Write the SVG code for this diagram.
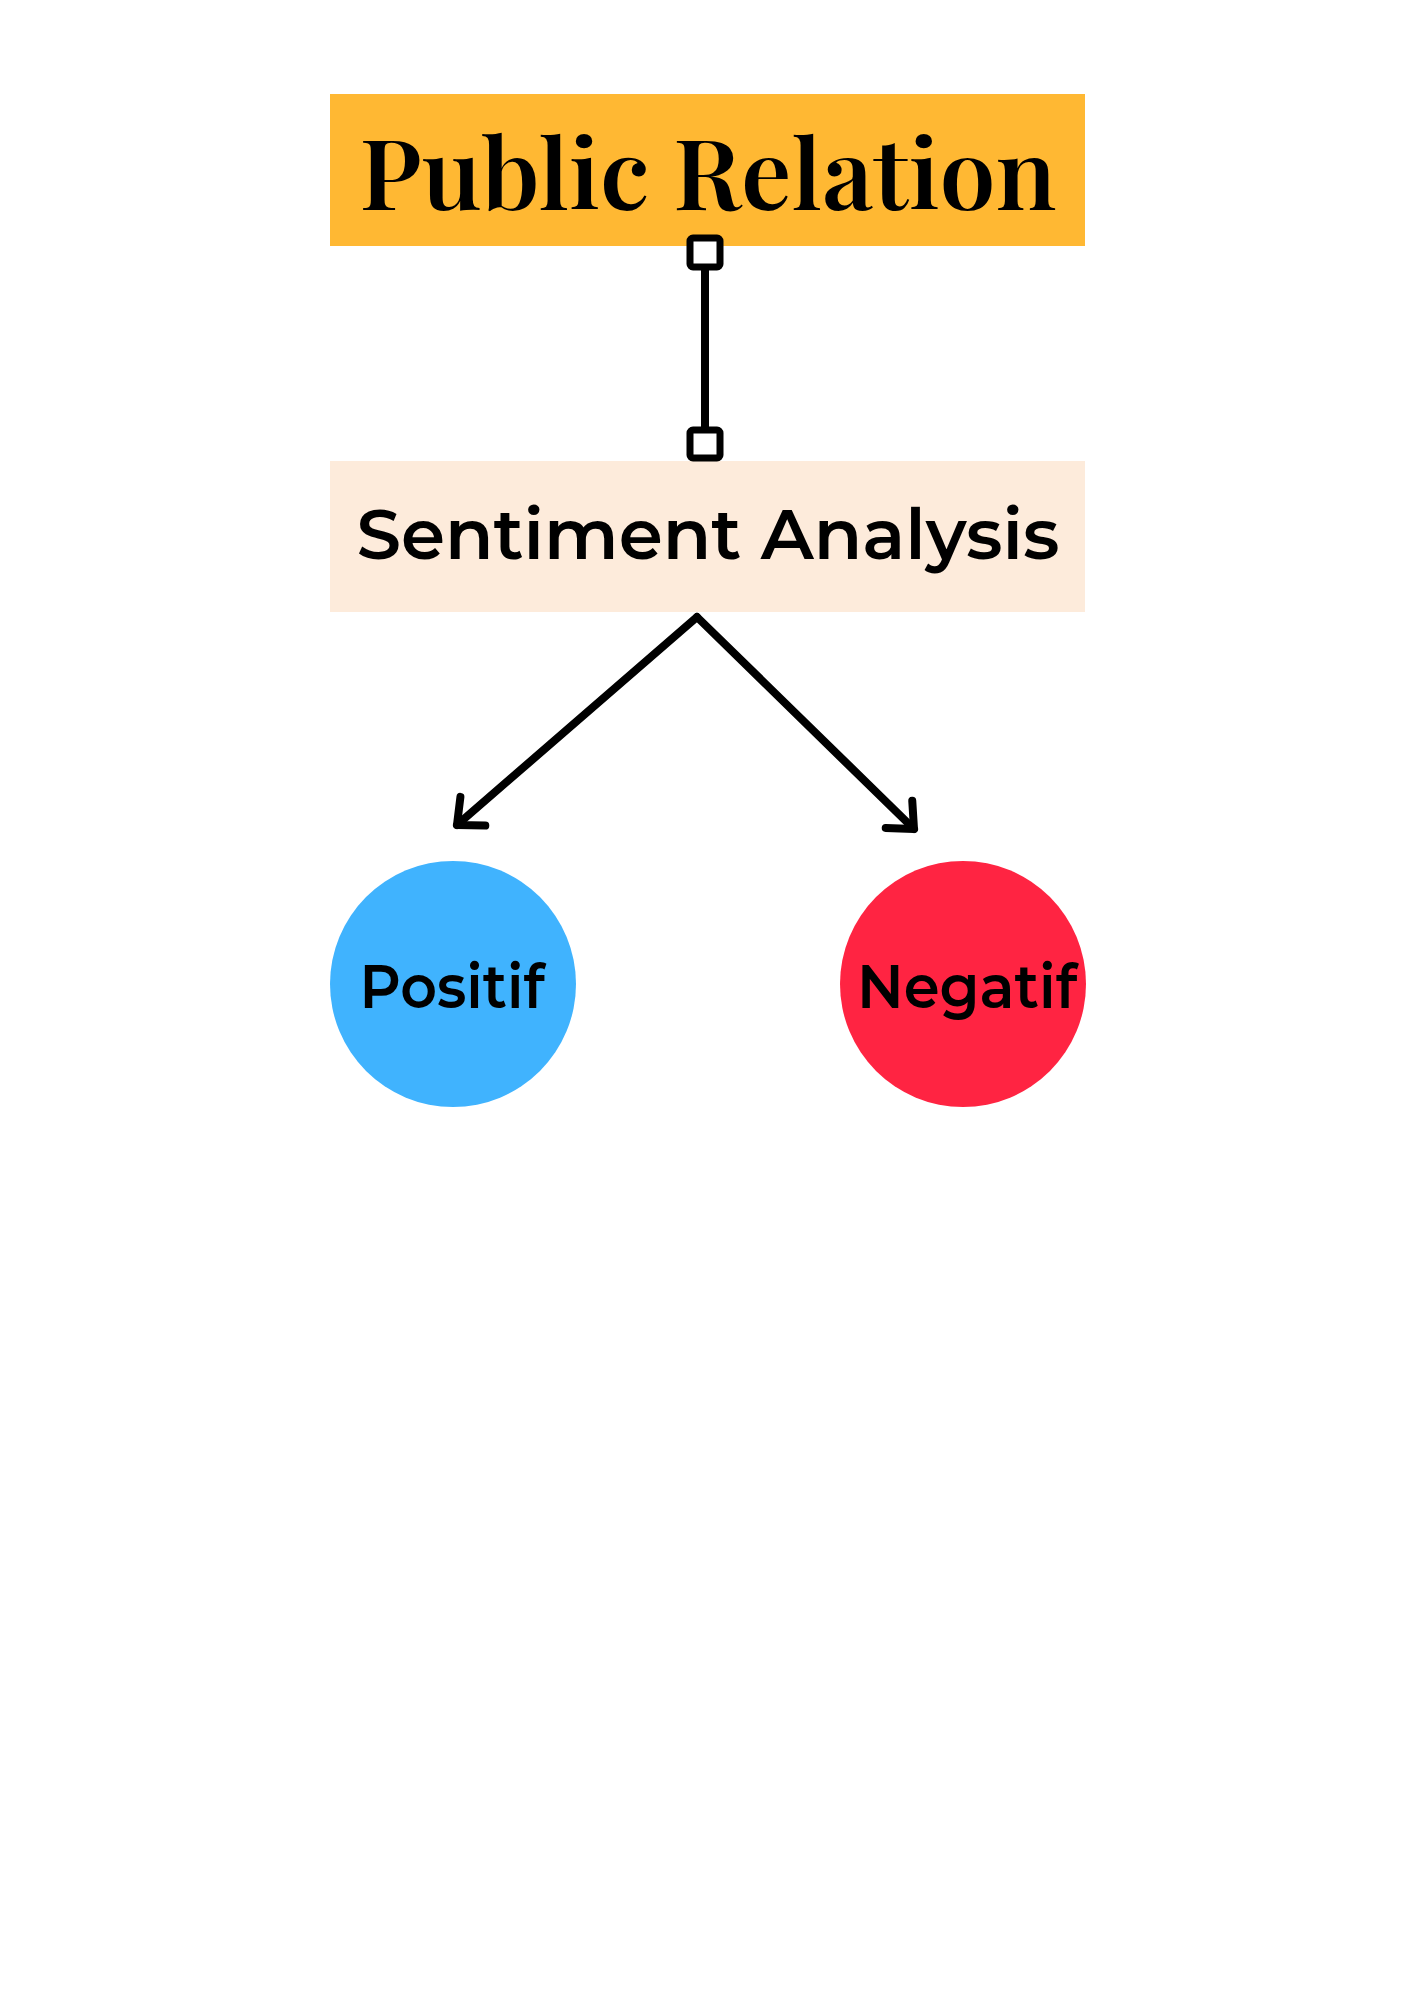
<svg xmlns="http://www.w3.org/2000/svg" width="1414" height="2000" viewBox="0 0 1414 2000">
  <style>
    .conn { fill: none; stroke: #000; stroke-width: 8; stroke-linecap: round; stroke-linejoin: round; }
    .sq { fill: #fff; stroke: #000; stroke-width: 7; }
    .lbl-sans { font-family: "Montserrat", "Inter", "Open Sans", "Liberation Sans", sans-serif; font-weight: 600; fill: #000; text-anchor: middle; }
    .lbl-serif { font-family: "Playfair Display", "Liberation Serif", "DejaVu Serif", serif; font-weight: 600; fill: #000; text-anchor: middle; }
  </style>
  <defs>
    <marker id="chev" viewBox="-30 -24 36 48" refX="0" refY="0" markerWidth="36" markerHeight="48" markerUnits="userSpaceOnUse" orient="auto">
      <path d="M -21 -19 L 0 0 L -21 19" fill="none" stroke="#000" stroke-width="8" stroke-linecap="round" stroke-linejoin="round"/>
    </marker>
  </defs>
  <rect width="1414" height="2000" fill="#fff"/>

  <g id="node-public-relation">
    <rect x="330" y="94" width="755" height="152" fill="#FFB833"/>
    <text class="lbl-serif" x="708" y="210" font-size="98" textLength="697" lengthAdjust="spacingAndGlyphs">Public Relation</text>
  </g>

  <g id="node-sentiment-analysis">
    <rect x="330" y="461" width="755" height="151" fill="#FDEBDB"/>
    <text class="lbl-sans" x="708" y="559" font-size="70" textLength="703" lengthAdjust="spacingAndGlyphs">Sentiment Analysis</text>
  </g>

  <g id="node-positif">
    <circle cx="453" cy="984" r="123" fill="#40B3FE"/>
    <text class="lbl-sans" x="452" y="1008" font-size="60" textLength="185" lengthAdjust="spacingAndGlyphs">Positif</text>
  </g>

  <g id="node-negatif">
    <circle cx="963" cy="984" r="123" fill="#FF2442"/>
    <text class="lbl-sans" x="967" y="1008" font-size="60" textLength="220" lengthAdjust="spacingAndGlyphs">Negatif</text>
  </g>

  <g id="connectors">
    <line class="conn" x1="705" y1="268" x2="705" y2="430"/>
    <rect class="sq" x="690" y="238" width="30" height="29" rx="3"/>
    <rect class="sq" x="690" y="430" width="30" height="28" rx="3"/>
    <path class="conn" d="M 697 617 L 457 825" marker-end="url(#chev)"/>
    <path class="conn" d="M 697 617 L 914 829" marker-end="url(#chev)"/>
  </g>
</svg>
